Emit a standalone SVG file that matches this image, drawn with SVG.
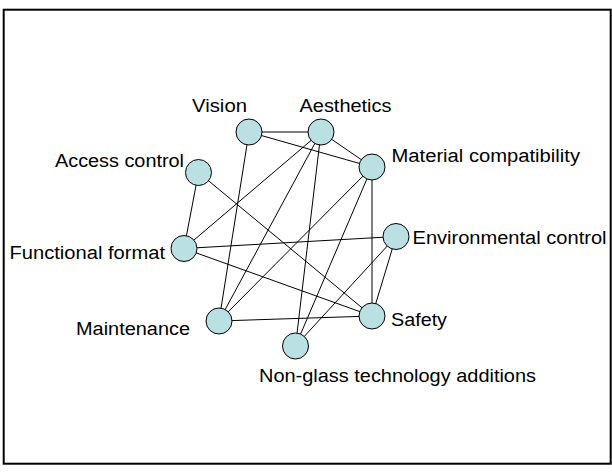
<svg xmlns="http://www.w3.org/2000/svg" width="612" height="473" viewBox="0 0 612 473">
<style>
.frame{fill:#fff;stroke:#000;stroke-width:2}
.node{fill:#BBE0E3;stroke:#000;stroke-width:1}
.edge{stroke:#000;stroke-width:1;fill:none}
.lbl{font-family:"Liberation Sans",Arial,sans-serif;font-size:18px;fill:#000}
</style>
<rect x="0" y="0" width="612" height="473" fill="#fff"/>
<rect class="frame" x="3.7" y="9.7" width="607" height="454"/>
<g id="connectors">
<line class="edge" x1="249" y1="132" x2="321" y2="132"/>
<line class="edge" x1="249" y1="132" x2="372" y2="167"/>
<line class="edge" x1="321" y1="132" x2="372" y2="167"/>
<line class="edge" x1="249" y1="132" x2="219" y2="321"/>
<line class="edge" x1="321" y1="132" x2="184" y2="248.5"/>
<line class="edge" x1="321" y1="132" x2="219" y2="321"/>
<line class="edge" x1="321" y1="132" x2="295.5" y2="346"/>
<line class="edge" x1="372" y1="167" x2="219" y2="321"/>
<line class="edge" x1="372" y1="167" x2="295.5" y2="346"/>
<line class="edge" x1="372" y1="167" x2="372" y2="316"/>
<line class="edge" x1="198.5" y1="172.5" x2="184" y2="248.5"/>
<line class="edge" x1="198.5" y1="172.5" x2="372" y2="316"/>
<line class="edge" x1="184" y1="248.5" x2="396" y2="236.5"/>
<line class="edge" x1="184" y1="248.5" x2="372" y2="316"/>
<line class="edge" x1="219" y1="321" x2="372" y2="316"/>
<line class="edge" x1="295.5" y1="346" x2="396" y2="236.5"/>
<line class="edge" x1="396" y1="236.5" x2="372" y2="316"/>
</g>
<g id="vision"><circle class="node" cx="249" cy="132" r="13"/><text class="lbl" x="192" y="112" textLength="55" lengthAdjust="spacingAndGlyphs">Vision</text></g>
<g id="aesthetics"><circle class="node" cx="321" cy="132" r="13"/><text class="lbl" x="299.5" y="112" textLength="92" lengthAdjust="spacingAndGlyphs">Aesthetics</text></g>
<g id="material"><circle class="node" cx="372" cy="167" r="13"/><text class="lbl" x="391.5" y="162" textLength="188.5" lengthAdjust="spacingAndGlyphs">Material compatibility</text></g>
<g id="access"><circle class="node" cx="198.5" cy="172.5" r="13"/><text class="lbl" x="55" y="167" textLength="129" lengthAdjust="spacingAndGlyphs">Access control</text></g>
<g id="functional"><circle class="node" cx="184" cy="248.5" r="13"/><text class="lbl" x="9.5" y="259" textLength="155.5" lengthAdjust="spacingAndGlyphs">Functional format</text></g>
<g id="environmental"><circle class="node" cx="396" cy="236.5" r="13"/><text class="lbl" x="412.5" y="243.5" textLength="194" lengthAdjust="spacingAndGlyphs">Environmental control</text></g>
<g id="maintenance"><circle class="node" cx="219" cy="321" r="13"/><text class="lbl" x="76" y="335" textLength="114" lengthAdjust="spacingAndGlyphs">Maintenance</text></g>
<g id="safety"><circle class="node" cx="372" cy="316" r="13"/><text class="lbl" x="391" y="326" textLength="56" lengthAdjust="spacingAndGlyphs">Safety</text></g>
<g id="nonglass"><circle class="node" cx="295.5" cy="346" r="13"/><text class="lbl" x="259" y="382" textLength="277" lengthAdjust="spacingAndGlyphs">Non-glass technology additions</text></g>
</svg>
